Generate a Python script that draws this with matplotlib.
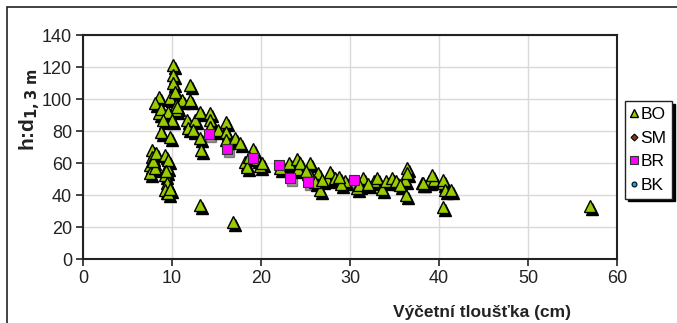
import matplotlib.pyplot as plt
import matplotlib.transforms as mtransforms
from matplotlib.patches import Rectangle

plt.rcParams['font.family'] = ['Liberation Sans', 'DejaVu Sans']

# --- BO (triangles) ---
bo_x = [7.7, 7.7, 7.5, 7.5, 8.1, 7.9, 8.2,
        9.2, 9.4, 9.2, 9.4, 9.2, 9.6, 9.5, 9.3, 9.8,
        8.5, 8.1, 8.5, 8.8, 9.8, 11.1, 12.0, 12.0, 10.5, 9.6, 10.0, 9.0, 8.8, 9.8,
        10.15, 10.15, 10.15, 10.3, 10.4, 10.6, 11.7, 11.8, 12.6, 13.1, 12.4, 13.1, 13.3,
        14.3, 14.3, 14.3, 15.2, 16.1, 16.1, 16.1, 13.1, 16.9,
        17.1, 17.6, 18.2, 18.4, 19.1, 19.5, 19.9, 18.6, 20.1,
        22.1, 23.1, 24.0, 24.2, 24.4, 25.5, 25.5, 26.4, 26.6, 27.4, 26.1, 25.1,
        26.8, 27.8, 28.3, 29.4, 30.8, 31.5, 32.7, 33.0, 33.6, 34.1, 34.7, 35.2,
        36.2, 36.4, 36.4, 36.3, 38.1, 38.9, 39.4, 40.5, 38.2, 39.2, 40.5, 40.7,
        41.4, 40.5, 57.0, 29.0, 31.0, 28.8, 32.0, 35.6]
bo_y = [68, 64, 58.8, 53.5, 56.7, 61, 66,
        65, 57.7, 52.5, 47.3, 43.1, 41, 62, 55, 44,
        101.5, 97.3, 91, 94, 100.4, 99.4, 108.8, 99.4, 93, 92, 86.9, 86.9, 79.6, 76.5,
        121.3, 115, 109.8, 104.6, 96, 95, 86.9, 81.7, 86.9, 92, 80.6, 75.4, 68,
        91, 86.9, 82.7, 80.6, 85.8, 79.6, 74.4, 33.7, 23.4,
        75.4, 72.3, 60.8, 57.7, 68.5, 62.3, 58, 64, 60,
        57, 60.2, 62.3, 56, 60, 60, 52.7, 53.8, 43.4, 49.8, 48, 55,
        49.6, 54.6, 50.6, 49, 44.4, 50.6, 48.5, 50.6, 43.8, 48.5, 50.6, 48.5,
        49.6, 56.9, 53.8, 40.2, 47.5, 48.5, 49.6, 47.5, 47.3, 52.5, 49.4, 43,
        43, 32.7, 33, 47, 46, 51, 47, 46]

# --- BR (squares) ---
br_x = [14.2, 16.2, 19.1, 22.0, 23.3, 25.3, 30.4]
br_y = [78, 68.8, 63, 58.5, 50.5, 48, 49.6]

# --- SM, BK: no data in the plot, legend only ---
sm_x, sm_y = [], []
bk_x, bk_y = [], []

xticks = [0, 10, 20, 30, 40, 50, 60]
yticks = [0, 20, 40, 60, 80, 100, 120, 140]

fig = plt.figure(figsize=(6.77, 3.23), dpi=100)
ax = fig.add_axes([83 / 677, 1 - 259 / 323, 534 / 677, 224 / 323])

# outer chart frame
fig.patches.append(Rectangle((7 / 677, -0.2), 1.2, 1.2 - 7 / 323,
                             transform=fig.transFigure, fill=False,
                             edgecolor='#222222', linewidth=1.2))

shadow = mtransforms.offset_copy(ax.transData, fig=fig, x=2, y=-3, units='dots')

green = '#99CC00'
pink = '#FF00FF'

# shadows first
ax.plot(bo_x, bo_y, linestyle='none', marker='^', ms=9, color='black',
        mec='black', transform=shadow, zorder=2)
ax.plot(br_x, br_y, linestyle='none', marker='s', ms=7, color='black',
        mec='black', transform=shadow, zorder=2, alpha=0.4)

ax.plot(bo_x, bo_y, linestyle='none', marker='^', ms=9, mfc=green,
        mec='black', mew=1.0, zorder=3, label='BO')
ax.plot(sm_x, sm_y, linestyle='none', marker='D', ms=5, mfc='#993300',
        mec='black', mew=0.8, label='SM')
ax.plot(br_x, br_y, linestyle='none', marker='s', ms=7.5, mfc=pink,
        mec='#333333', mew=0.8, zorder=4, label='BR')
ax.plot(bk_x, bk_y, linestyle='none', marker='o', ms=5, mfc='#00B0F0',
        mec='black', mew=0.8, label='BK')

ax.set_xlim(0, 60)
ax.set_ylim(0, 140)
ax.set_xticks(xticks)
ax.set_yticks(yticks)
ax.grid(True, color='#D9D9D9', linewidth=1)
ax.set_axisbelow(True)
for s in ax.spines.values():
    s.set_color('#222222')
    s.set_linewidth(1.5)
ax.tick_params(direction='out', length=5, width=1.2, color='#222222',
               labelsize=13, labelcolor='#222222', pad=3)

fig.text(482 / 677, 1 - 313 / 323, 'Výčetní tloušťka (cm)', ha='center',
         va='center', fontsize=12.5, fontweight='bold', color='#222222')
fig.text(30 / 677, 1 - 110 / 323, r'h:d$_{\mathbf{1,3\ m}}$', ha='center',
         va='center', rotation=90, fontsize=15, fontweight='bold',
         color='#222222')

leg = ax.legend(loc='center left', bbox_to_anchor=(625 / 677, 1 - 150 / 323),
                bbox_transform=fig.transFigure, frameon=True, fancybox=False,
                shadow={'color': 'black', 'alpha': 1}, fontsize=12.5,
                handlelength=0.4, handletextpad=0.2, labelspacing=0.5,
                borderpad=0.3, borderaxespad=0, markerscale=0.7)
leg.get_frame().set_edgecolor('#222222')
leg.get_frame().set_linewidth(1)

fig.savefig('out.png', dpi=100)
